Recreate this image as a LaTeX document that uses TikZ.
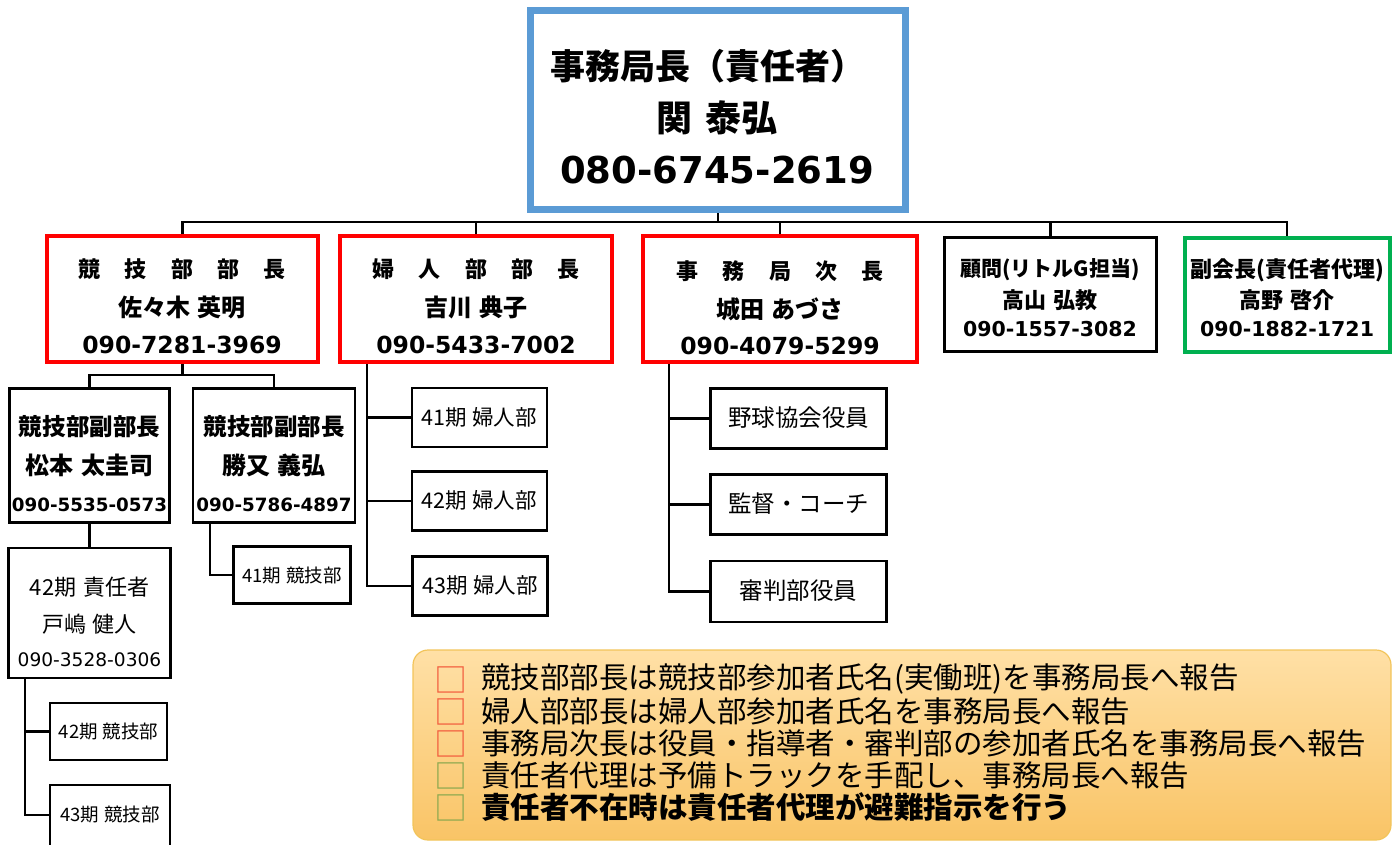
\documentclass[tikz,border=0pt]{standalone}
\usepackage{fontspec}
\setmainfont{Noto Sans CJK JP}
\newfontfamily\dv{DejaVu Sans}
\definecolor{topblue}{HTML}{5B9BD5}
\definecolor{boxred}{HTML}{FF0000}
\definecolor{boxgreen}{HTML}{00B050}
\definecolor{sqred}{HTML}{F25A3C}
\definecolor{sqgreen}{HTML}{8AA84E}
\definecolor{notetop}{HTML}{FFE0A6}
\definecolor{notebot}{HTML}{F9C466}
\definecolor{noteline}{HTML}{F2C45A}
\newcommand\fs[1]{\fontsize{#1}{#1}\selectfont}
\newcommand\spc{\hspace{1.1em}}
\begin{document}
\begin{tikzpicture}[x=1pt,y=-1pt,
  box/.style={draw, rectangle, inner sep=0pt},
  redbox/.style={box, draw=boxred, line width=4pt},
  blkbox/.style={box, draw=black, line width=3.5pt},
  grnbox/.style={box, draw=boxgreen, line width=4pt},
  subbox/.style={box, draw=black, line width=2.6pt},
  conn/.style={draw=black, line width=2.5pt},
  txt/.style={inner sep=0pt, anchor=center},
  ntxt/.style={inner sep=0pt, anchor=west, font=\fs{29.5}},
  sq/.style={inner sep=0pt, anchor=center, font=\fs{33}}
]
\useasboundingbox (0,0) rectangle (1397,844);

% top box
\node[box, draw=topblue, line width=7pt, minimum width=375pt, minimum height=199pt] (top) at (718,110) {};
\node[txt, font=\fs{35}\bfseries] (top1) at (708,66) {事務局長（責任者）};
\node[txt, font=\fs{36}\bfseries] (top2) at (717,118) {関\hspace{0.35em}泰弘};
\node[txt, font=\fs{37}\dv\bfseries] (top3) at (717,170) {080-6745-2619};

% row boxes
\node[redbox, minimum width=271pt, minimum height=126pt] (b1) at (182.5,299) {};
\node[redbox, minimum width=272pt, minimum height=126pt] (b2) at (476,299) {};
\node[redbox, minimum width=274pt, minimum height=126pt] (b3) at (780,299) {};
\node[blkbox, minimum width=212pt, minimum height=114pt] (b4) at (1050.5,294.5) {};
\node[grnbox, minimum width=205pt, minimum height=114pt] (b5) at (1287,294.5) {};

\node[txt, font=\fs{22}\bfseries] (b1a) at (182,269) {競\spc 技\spc 部\spc 部\spc 長};
\node[txt, font=\fs{24}\bfseries] (b1b) at (182,307) {佐々木\hspace{0.3em}英明};
\node[txt, font=\fs{23.5}\dv\bfseries] (b1c) at (182,345) {090-7281-3969};

\node[txt, font=\fs{22}\bfseries] (b2a) at (476,269) {婦\spc 人\spc 部\spc 部\spc 長};
\node[txt, font=\fs{24}\bfseries] (b2b) at (476,307) {吉川\hspace{0.3em}典子};
\node[txt, font=\fs{23.5}\dv\bfseries] (b2c) at (476,345) {090-5433-7002};

\node[txt, font=\fs{22}\bfseries] (b3a) at (780,271) {事\spc 務\spc 局\spc 次\spc 長};
\node[txt, font=\fs{24}\bfseries] (b3b) at (780,309) {城田\hspace{0.3em}あづさ};
\node[txt, font=\fs{23.5}\dv\bfseries] (b3c) at (780,346) {090-4079-5299};

\node[txt, font=\fs{21}\bfseries] (b4a) at (1050,270) {顧問(リトルG担当)};
\node[txt, font=\fs{22}\bfseries] (b4b) at (1050,300) {高山\hspace{0.3em}弘教};
\node[txt, font=\fs{20.5}\dv\bfseries] (b4c) at (1050,329) {090-1557-3082};

\node[txt, font=\fs{22}\bfseries] (b5a) at (1287,270) {副会長(責任者代理)};
\node[txt, font=\fs{22}\bfseries] (b5b) at (1287,300) {高野\hspace{0.3em}啓介};
\node[txt, font=\fs{20.5}\dv\bfseries] (b5c) at (1287,329) {090-1882-1721};

% bus
\coordinate (bus) at (718,222);
\draw[conn] (top.south) -- (top.south |- bus);
\draw[conn] (b1.north) -- (b1.north |- bus) -- (b5.north |- bus) -- (b5.north);
\draw[conn] (b2.north) -- (b2.north |- bus);
\draw[conn] (b3.north) -- (b3.north |- bus);
\draw[conn] (b4.north) -- (b4.north |- bus);

% 競技部 sub tree
\node[subbox, minimum width=160pt, minimum height=134pt] (sA) at (89.5,455.5) {};
\node[subbox, minimum width=162pt, minimum height=134pt] (sB) at (274,455.5) {};
\node[txt, font=\fs{23.5}\bfseries] (sAa) at (89.5,427) {競技部副部長};
\node[txt, font=\fs{24}\bfseries] (sAb) at (89.5,465) {松本\hspace{0.3em}太圭司};
\node[txt, font=\fs{18.3}\dv\bfseries] (sAc) at (89.5,505) {090-5535-0573};
\node[txt, font=\fs{23.5}\bfseries] (sBa) at (274,427) {競技部副部長};
\node[txt, font=\fs{24}\bfseries] (sBb) at (274,465) {勝又\hspace{0.3em}義弘};
\node[txt, font=\fs{18.3}\dv\bfseries] (sBc) at (274,505) {090-5786-4897};

\coordinate (j1) at (182,375);
\draw[conn] (b1.south) -- (b1.south |- j1);
\draw[conn] (sA.north) -- (sA.north |- j1) -- (sB.north |- j1) -- (sB.north);

\node[subbox, minimum width=162pt, minimum height=130pt] (sC) at (89.5,613) {};
\node[txt, font=\fs{22}] (sCa) at (89.5,587) {42期\hspace{0.3em}責任者};
\node[txt, font=\fs{22}] (sCb) at (89.5,624) {戸嶋\hspace{0.3em}健人};
\node[txt, font=\fs{18.6}\dv] (sCc) at (89.5,660) {090-3528-0306};
\draw[conn] (sA.south) -- (sC.north);

\node[subbox, minimum width=117pt, minimum height=57pt] (sD) at (292,575) {};
\node[txt, font=\fs{18.5}] (sDa) at (292,575) {41期\hspace{0.25em}競技部};
\coordinate (c2) at (210,522);
\draw[conn] (c2) |- (sD.west);

\node[subbox, minimum width=117pt, minimum height=57pt] (e1) at (108.5,731.5) {};
\node[txt, font=\fs{18.5}] (e1a) at (108.5,731.5) {42期\hspace{0.25em}競技部};
\node[subbox, minimum width=120pt, minimum height=64pt] (e2) at (110,817) {};
\node[txt, font=\fs{18.5}] (e2a) at (110,814) {43期\hspace{0.25em}競技部};
\coordinate (c1) at (25,678);
\draw[conn] (c1) |- (e2.west |- 0,815);
\draw[conn] (c1 |- e1.west) -- (e1.west);

% 婦人部
\node[subbox, minimum width=135pt, minimum height=59pt] (f1) at (479.5,417.5) {};
\node[subbox, minimum width=135pt, minimum height=59pt] (f2) at (479.5,501) {};
\node[subbox, minimum width=135pt, minimum height=59pt] (f3) at (480,586) {};
\node[txt, font=\fs{21.5}] (f1a) at (479,417) {41期\hspace{0.25em}婦人部};
\node[txt, font=\fs{21.5}] (f2a) at (479,500) {42期\hspace{0.25em}婦人部};
\node[txt, font=\fs{21.5}] (f3a) at (480,585) {43期\hspace{0.25em}婦人部};
\coordinate (c3) at (367,364);
\draw[conn] (c3) |- (f3.west);
\draw[conn] (c3 |- f1.west) -- (f1.west);
\draw[conn] (c3 |- f2.west) -- (f2.west);

% 事務局次長
\node[subbox, minimum width=176pt, minimum height=60pt] (g1) at (798.5,418.5) {};
\node[subbox, minimum width=176pt, minimum height=60pt] (g2) at (798.5,504.5) {};
\node[subbox, minimum width=176pt, minimum height=61pt] (g3) at (798.5,591.5) {};
\node[txt, font=\fs{23.5}] (g1a) at (798.5,418) {野球協会役員};
\node[txt, font=\fs{23.5}] (g2a) at (798.5,504) {監督・コーチ};
\node[txt, font=\fs{23.5}] (g3a) at (798.5,591) {審判部役員};
\coordinate (c4) at (669,364);
\draw[conn] (c4) |- (g3.west);
\draw[conn] (c4 |- g1.west) -- (g1.west);
\draw[conn] (c4 |- g2.west) -- (g2.west);

% note
\node[draw=noteline, line width=1.2pt, rounded corners=15pt, top color=notetop, bottom color=notebot,
      minimum width=978pt, minimum height=190pt, inner sep=0pt] (note) at (902,745) {};
\node[sq, text=sqred] (q1) at (451,680) {□};
\node[sq, text=sqred] (q2) at (451,712) {□};
\node[sq, text=sqred] (q3) at (451,744) {□};
\node[sq, text=sqgreen] (q4) at (451,776) {□};
\node[sq, text=sqgreen] (q5) at (451,808) {□};
\node[ntxt] (n1) at (481,679) {競技部部長は競技部参加者氏名(実働班)を事務局長へ報告};
\node[ntxt] (n2) at (481,711) {婦人部部長は婦人部参加者氏名を事務局長へ報告};
\node[ntxt] (n3) at (481,743) {事務局次長は役員・指導者・審判部の参加者氏名を事務局長へ報告};
\node[ntxt] (n4) at (481,775) {責任者代理は予備トラックを手配し、事務局長へ報告};
\node[ntxt, font=\fs{29.5}\bfseries] (n5) at (481,807) {責任者不在時は責任者代理が避難指示を行う};
\end{tikzpicture}
\end{document}
